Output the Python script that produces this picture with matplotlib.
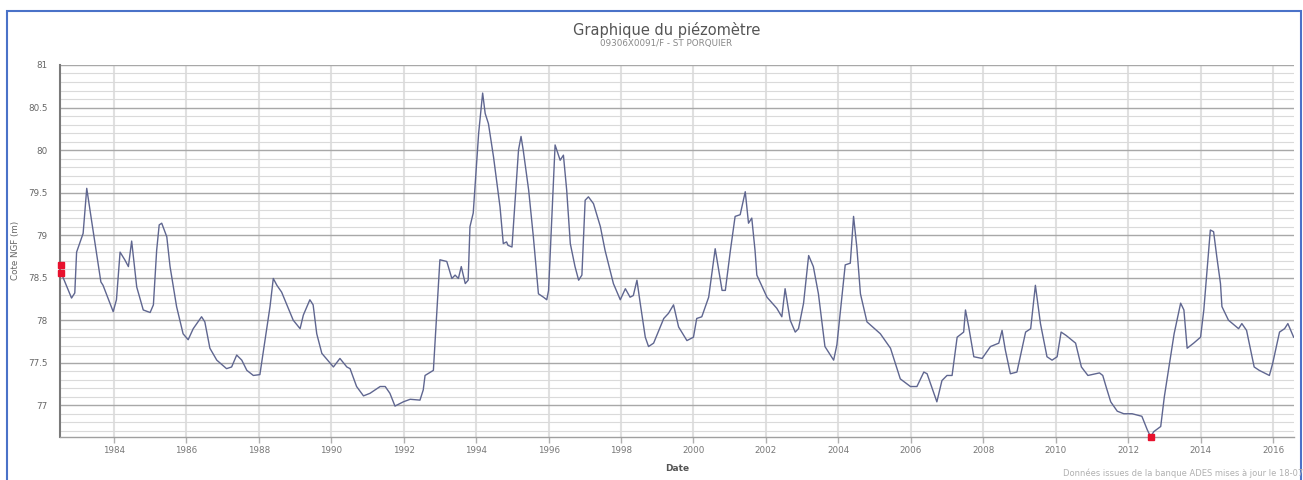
import matplotlib
matplotlib.use("Agg")
import matplotlib.pyplot as plt
import numpy as np
from matplotlib.patches import Rectangle
from matplotlib.ticker import MultipleLocator, FuncFormatter

# piezometer readings (decimal year, level in m NGF), one row per ~2 years
dates = [
    1982.55, 1982.83, 1982.92, 1982.97, 1983.15, 1983.25, 1983.38, 1983.58, 1983.64, 1983.70, 1983.98,
    1984.07, 1984.17, 1984.30, 1984.40, 1984.49, 1984.63, 1984.81, 1985.00, 1985.09, 1985.18, 1985.25, 1985.32, 1985.46, 1985.55, 1985.73, 1985.91,
    1986.05, 1986.19, 1986.42, 1986.51, 1986.65, 1986.84, 1987.11, 1987.25, 1987.39, 1987.53, 1987.67, 1987.85,
    1988.03, 1988.17, 1988.31, 1988.40, 1988.50, 1988.63, 1988.95, 1989.14, 1989.23, 1989.41, 1989.50, 1989.60, 1989.74,
    1990.06, 1990.24, 1990.43, 1990.52, 1990.70, 1990.89, 1991.07, 1991.35, 1991.49, 1991.62, 1991.76, 1991.99,
    1992.18, 1992.45, 1992.54, 1992.59, 1992.82, 1993.00, 1993.19, 1993.33, 1993.42, 1993.51, 1993.59, 1993.70, 1993.78, 1993.83, 1993.92,
    1994.07, 1994.18, 1994.25, 1994.34, 1994.48, 1994.66, 1994.75, 1994.84, 1994.88, 1994.99, 1995.17, 1995.24, 1995.30, 1995.45, 1995.58, 1995.72, 1995.86, 1995.95,
    1996.00, 1996.18, 1996.32, 1996.41, 1996.50, 1996.60, 1996.73, 1996.83, 1996.92, 1997.01, 1997.10, 1997.24, 1997.43, 1997.56, 1997.79, 1997.98,
    1998.12, 1998.25, 1998.34, 1998.44, 1998.53, 1998.67, 1998.76, 1998.90, 1999.18, 1999.31, 1999.45, 1999.59, 1999.82,
    2000.00, 2000.09, 2000.23, 2000.42, 2000.60, 2000.79, 2000.88, 2001.02, 2001.15, 2001.29, 2001.43, 2001.52, 2001.61, 2001.70, 2001.75,
    2002.03, 2002.30, 2002.44, 2002.53, 2002.67, 2002.81, 2002.90, 2003.04, 2003.18, 2003.31, 2003.45, 2003.63, 2003.87, 2003.96,
    2004.19, 2004.33, 2004.42, 2004.51, 2004.61, 2004.79, 2005.16, 2005.44, 2005.71, 2005.99,
    2006.17, 2006.36, 2006.45, 2006.72, 2006.86, 2007.00, 2007.14, 2007.28, 2007.46, 2007.51, 2007.60, 2007.74, 2007.97,
    2008.20, 2008.43, 2008.52, 2008.61, 2008.75, 2008.93, 2009.17, 2009.31, 2009.44, 2009.58, 2009.76, 2009.90,
    2010.04, 2010.15, 2010.29, 2010.55, 2010.71, 2010.89, 2011.21, 2011.30, 2011.39, 2011.52, 2011.70, 2011.88,
    2012.11, 2012.38, 2012.53, 2012.62, 2012.71, 2012.90, 2013.00, 2013.27, 2013.45, 2013.54, 2013.63, 2013.81,
    2014.00, 2014.09, 2014.27, 2014.36, 2014.45, 2014.55, 2014.59, 2014.77, 2015.05, 2015.14, 2015.27, 2015.48, 2015.62, 2015.90, 2015.99,
    2016.18, 2016.32, 2016.41, 2016.57,
]
levels = [
    78.55, 78.26, 78.32, 78.80, 79.02, 79.55, 79.18, 78.62, 78.45, 78.41, 78.10,
    78.24, 78.80, 78.71, 78.63, 78.93, 78.39, 78.12, 78.09, 78.18, 78.82, 79.12, 79.14, 78.98, 78.63, 78.16, 77.84,
    77.77, 77.90, 78.04, 77.98, 77.67, 77.53, 77.43, 77.45, 77.59, 77.53, 77.41, 77.35,
    77.36, 77.76, 78.16, 78.49, 78.41, 78.33, 78.00, 77.90, 78.06, 78.24, 78.18, 77.84, 77.61,
    77.45, 77.55, 77.45, 77.43, 77.22, 77.11, 77.14, 77.22, 77.22, 77.14, 76.99, 77.04,
    77.07, 77.06, 77.18, 77.35, 77.41, 78.71, 78.69, 78.49, 78.53, 78.49, 78.63, 78.43, 78.47, 79.10, 79.26,
    80.20, 80.67, 80.43, 80.31, 79.92, 79.33, 78.90, 78.92, 78.88, 78.86, 80.00, 80.16, 80.00, 79.53, 78.98, 78.31, 78.27, 78.24,
    78.35, 80.06, 79.88, 79.94, 79.53, 78.90, 78.63, 78.47, 78.53, 79.41, 79.45, 79.37, 79.10, 78.82, 78.43, 78.24,
    78.37, 78.27, 78.29, 78.47, 78.20, 77.80, 77.69, 77.73, 78.02, 78.08, 78.18, 77.92, 77.76,
    77.80, 78.02, 78.04, 78.27, 78.84, 78.35, 78.35, 78.82, 79.22, 79.24, 79.51, 79.14, 79.20, 78.82, 78.53,
    78.27, 78.14, 78.04, 78.37, 78.00, 77.86, 77.90, 78.20, 78.76, 78.63, 78.31, 77.69, 77.53, 77.71,
    78.65, 78.67, 79.22, 78.86, 78.31, 77.98, 77.84, 77.67, 77.31, 77.22,
    77.22, 77.39, 77.37, 77.04, 77.29, 77.35, 77.35, 77.80, 77.86, 78.12, 77.92, 77.57, 77.55,
    77.69, 77.73, 77.88, 77.65, 77.37, 77.39, 77.86, 77.90, 78.41, 77.96, 77.57, 77.53,
    77.57, 77.86, 77.82, 77.73, 77.45, 77.35, 77.38, 77.35, 77.22, 77.04, 76.93, 76.90,
    76.90, 76.87, 76.71, 76.63, 76.69, 76.75, 77.10, 77.84, 78.20, 78.12, 77.67, 77.73,
    77.80, 78.12, 79.06, 79.04, 78.74, 78.43, 78.16, 78.00, 77.90, 77.96, 77.88, 77.45, 77.41, 77.35, 77.49,
    77.86, 77.90, 77.96, 77.80,
]

# flagged measurements (red squares)
flag_dates = [1982.55, 1982.55, 2012.62]
flag_levels = [78.65, 78.55, 76.63]

year_ticks = list(range(1984, 2017, 2))

fig = plt.figure(figsize=(13.03, 4.8), dpi=100)
ax = fig.add_axes([0.046, 0.0902, 0.9471, 0.7744])

# grid
ax.yaxis.set_major_locator(MultipleLocator(0.5))
ax.yaxis.set_minor_locator(MultipleLocator(0.1))
ax.grid(True, which="minor", axis="y", color="#dadada", linewidth=0.8)
ax.grid(True, which="major", axis="y", color="#a8a8a8", linewidth=1.0)
ax.set_xticks(year_ticks)
ax.grid(True, which="major", axis="x", color="#e0e0e0", linewidth=1.5)
ax.set_axisbelow(True)

ax.plot(dates, levels, color="#5f6690", linewidth=1.0, zorder=3)
ax.plot(flag_dates, flag_levels, "s", color="#e8112d", markersize=4, zorder=4, clip_on=False)

ax.set_xlim(1982.51, 2016.58)
ax.set_ylim(76.63, 81)

ax.yaxis.set_major_formatter(FuncFormatter(lambda v, p: "%g" % v))
ax.tick_params(axis="y", which="both", length=0, pad=9, labelsize=6.3, labelcolor="#666666")
ax.tick_params(axis="x", length=4, width=1, color="#b0b0b0", pad=3, labelsize=6.3, labelcolor="#777777")

for s in ["top", "right"]:
    ax.spines[s].set_visible(False)
ax.spines["left"].set_color("#7a7a7a")
ax.spines["left"].set_linewidth(1.5)
ax.spines["bottom"].set_color("#a0a0a0")
ax.spines["bottom"].set_linewidth(1.0)

ax.set_ylabel("Cote NGF (m)", fontsize=6.3, color="#666666")
ax.yaxis.set_label_coords(-0.0324, 0.5)
ax.set_xlabel("Date", fontsize=6.5, color="#555555", fontweight="bold", labelpad=6)

fig.text(0.5115, 0.9375, "Graphique du piézomètre", ha="center", va="center", fontsize=10.5, color="#555555")
fig.text(0.5115, 0.910, "09306X0091/F - ST PORQUIER", ha="center", va="center", fontsize=6.3, color="#888888")
fig.text(1.0, 0.004, "Données issues de la banque ADES mises à jour le 18-07", ha="right", va="bottom",
         fontsize=6, color="#b0b0b0")

# outer frame
fig.patches.append(Rectangle((7 / 1303, -0.05), 1294 / 1303, 1.05 - 11 / 480, transform=fig.transFigure,
                             fill=False, edgecolor="#4a72c8", linewidth=1.5))

fig.savefig("out.png", dpi=100, facecolor="white")
